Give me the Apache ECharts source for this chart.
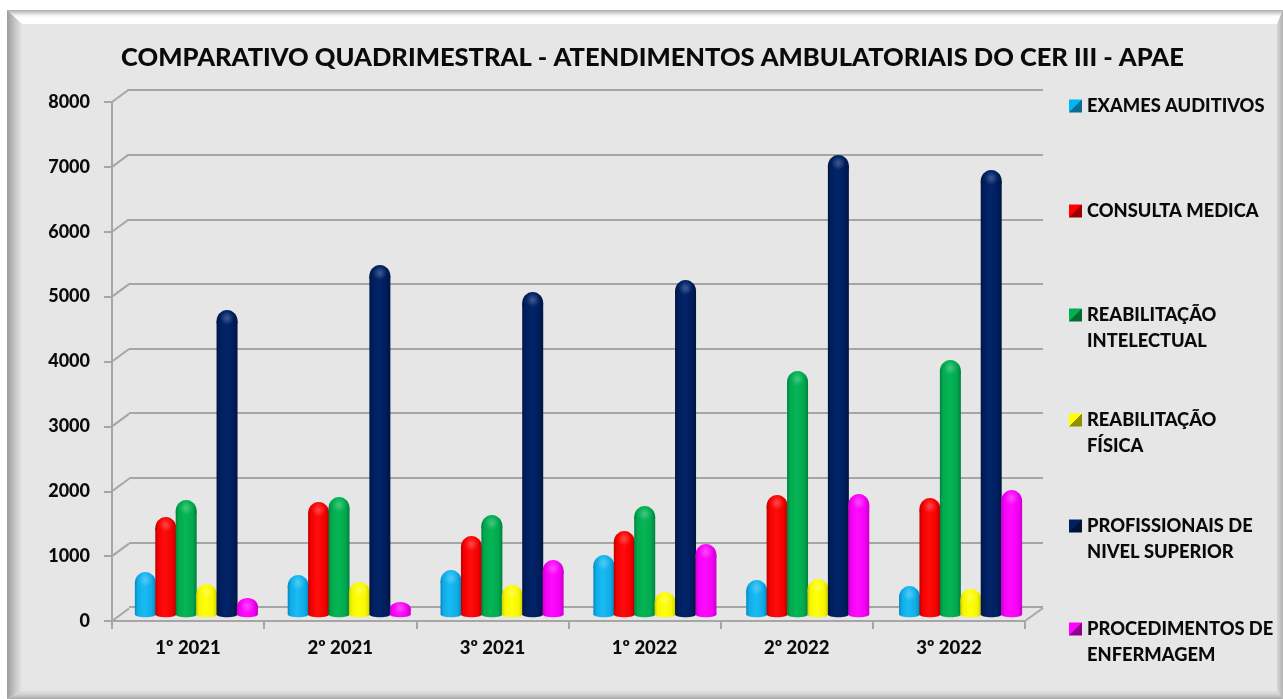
<!DOCTYPE html>
<html>
<head>
<meta charset="utf-8">
<style>html,body{margin:0;padding:0;background:#fff}#c{width:1283px;height:699px}</style>
<script src="https://cdn.jsdelivr.net/npm/echarts@6/dist/echarts.min.js"></script>
</head>
<body>
<div id="c"></div>
<script>
const titleText = 'COMPARATIVO QUADRIMESTRAL - ATENDIMENTOS AMBULATORIAIS DO CER III - APAE';
const categories = ['1º 2021','2º 2021','3º 2021','1º 2022','2º 2022','3º 2022'];
const examesAuditivos = [680,633,710,942,556,463];
const consultaMedica = [1530,1760,1235,1313,1869,1822];
const reabIntelectual = [1790,1838,1560,1699,3784,3954];
const reabFisica = [494,525,479,371,571,417];
const profissionais = [4725,5420,5004,5189,7120,6888];
const procedimentos = [278,216,865,1112,1884,1946];
const tickValues = [0,1000,2000,3000,4000,5000,6000,7000,8000];

const names = ['EXAMES AUDITIVOS','CONSULTA MEDICA','REABILITAÇÃO INTELECTUAL','REABILITAÇÃO FÍSICA','PROFISSIONAIS DE NIVEL SUPERIOR','PROCEDIMENTOS DE ENFERMAGEM'];
const legendLines = ['EXAMES AUDITIVOS','CONSULTA MEDICA',' \nREABILITAÇÃO\nINTELECTUAL',' \nREABILITAÇÃO\nFÍSICA',' \nPROFISSIONAIS DE\nNIVEL SUPERIOR',' \nPROCEDIMENTOS DE\nENFERMAGEM'];
const seriesData = [examesAuditivos,consultaMedica,reabIntelectual,reabFisica,profissionais,procedimentos];
const palette = [
  ['#0088C4','#19BBF5','#10ACE6','#00B5F2','#0A6E92'],
  ['#B80000','#FF0C0C','#F40000','#FF0000','#9A0000'],
  ['#008040','#05B556','#00AA4D','#00B050','#006C30'],
  ['#CCCC00','#FFFF0A','#F6F600','#FFFF00','#8E8E00'],
  ['#001440','#02246A','#001E5C','#002060','#001238'],
  ['#C800C8','#FF0CFF','#F400F4','#FF00FF','#900090']
];
const legendCentres = [106,211,315,420,526,629];
const FONT = 'Lato';
const INK = '#0A0A0A';

function gradH(c){
  return new echarts.graphic.LinearGradient(0,0,1,0,[
    {offset:0,color:c[0]},{offset:.14,color:c[2]},{offset:.45,color:c[1]},{offset:.8,color:c[2]},{offset:1,color:c[0]}
  ]);
}
function cylinder(i){
  return function(params, api){
    const cat = api.value(0), val = api.value(1);
    const top = api.coord([cat,val]), base = api.coord([cat,0]);
    const band = api.size([1,0])[0];
    const step = band*0.1336, w = 21;
    const cx = top[0] + (i-2.5)*step;
    const rx = w/2, h = base[1]-top[1];
    const ry = Math.min(11,h*0.48);
    const fill = gradH(palette[i]);
    return {type:'group',children:[
      {type:'ellipse',shape:{cx:cx,cy:base[1]-1.5,rx:rx,ry:2.8},style:{fill:fill}},
      {type:'rect',shape:{x:cx-rx,y:top[1]+ry,width:w,height:h-ry-1.5},style:{fill:fill}},
      {type:'ellipse',shape:{cx:cx,cy:top[1]+ry,rx:rx,ry:ry},style:{fill:fill}},
      {type:'circle',shape:{cx:cx,cy:top[1]+Math.min(8,h*.45),r:7},style:{fill:new echarts.graphic.RadialGradient(.5,.5,.5,[
        {offset:0,color:'rgba(255,255,255,0.25)'},{offset:1,color:'rgba(255,255,255,0)'}])}}
    ]};
  };
}
const series = names.map((n,i)=>({
  name:n,type:'custom',xAxisIndex:2,yAxisIndex:2,clip:false,z:5+i,
  itemStyle:{color:palette[i][3]},
  encode:{x:0,y:1},
  data:categories.map((c,k)=>[k,seriesData[i][k]]),
  renderItem:cylinder(i)
}));
series.push({
  type:'custom',xAxisIndex:1,yAxisIndex:1,z:2,silent:true,clip:false,
  data:tickValues.map(v=>[0,v]),encode:{y:1},
  renderItem:function(params,api){
    const y = api.coord([0,api.value(1)])[1], x = params.coordSys.x;
    return {type:'line',shape:{x1:x,y1:y,x2:x+17,y2:y-12.5},style:{stroke:'#A6A6A6',lineWidth:2}};
  }
});
series.push({
  type:'custom',xAxisIndex:1,yAxisIndex:1,z:2,silent:true,clip:false,
  data:[[0,0]],encode:{y:1},
  renderItem:function(params,api){
    const y = api.coord([0,0])[1], c = params.coordSys;
    return {type:'line',shape:{x1:c.x+c.width,y1:y,x2:c.x+c.width+18,y2:y-13},style:{stroke:'#A6A6A6',lineWidth:2}};
  }
});

const legends = names.map((n,i)=>{
  const two = legendLines[i].indexOf('\n')>=0;
  return {
    left:1069,top:legendCentres[i]-(two?39:13),orient:'vertical',padding:0,
    itemWidth:13,itemHeight:13,itemGap:0,selectedMode:false,icon:'rect',
    formatter:()=>legendLines[i],
    textStyle:{fontFamily:FONT,fontWeight:'900',fontSize:18.3,color:INK,lineHeight:26},
    data:[{name:n,icon:'rect',itemStyle:{color:new echarts.graphic.LinearGradient(0,0,1,1,[
      {offset:0,color:palette[i][3]},{offset:.5,color:palette[i][3]},{offset:.5,color:palette[i][4]},{offset:1,color:palette[i][4]}]),borderWidth:0}}]
  };
});

const W=1283,H=699;
const bevel = [
  {pts:[[7,10],[W,10],[W-6,24],[22,24]],fill:new echarts.graphic.LinearGradient(0,0,0,1,[{offset:0,color:'#ADADAD'},{offset:.35,color:'#EDEDED'},{offset:.5,color:'#FFFFFF'},{offset:1,color:'#FFFFFF'}])},
  {pts:[[7,10],[22,24],[22,690],[7,H]],fill:new echarts.graphic.LinearGradient(0,0,1,0,[{offset:0,color:'#9C9C9C'},{offset:.5,color:'#C4C4C4'},{offset:1,color:'#E6E6E6'}])},
  {pts:[[W,10],[W,H],[W-6,690],[W-6,24]],fill:new echarts.graphic.LinearGradient(0,0,1,0,[{offset:0,color:'#D8D8D8'},{offset:1,color:'#B0B0B0'}])},
  {pts:[[7,H],[W,H],[W-6,690],[22,690]],fill:new echarts.graphic.LinearGradient(0,0,0,1,[{offset:0,color:'#E6E6E6'},{offset:.5,color:'#D0D0D0'},{offset:1,color:'#A8A8A8'}])}
];
const graphics = [
  {type:'rect',z:-10,shape:{x:7,y:10,width:W-7,height:H-10},style:{fill:'#E6E6E6'}}
].concat(bevel.map(b=>({type:'polygon',z:-8,shape:{points:b.pts},style:{fill:b.fill}})));

const chart = echarts.init(document.getElementById('c'),null,{renderer:'canvas',width:W,height:H});
chart.setOption({
  animation:false,
  backgroundColor:'#FFFFFF',
  title:{text:titleText,left:647.5,top:40,textAlign:'center',textStyle:{fontFamily:FONT,fontWeight:'900',fontSize:25.5,color:INK}},
  legend:legends,
  graphic:{elements:graphics},
  grid:[
    {left:129,top:90,width:914,height:517},
    {left:112,top:102,width:913,height:519},
    {left:120,top:98,width:917,height:518}
  ],
  xAxis:[
    {gridIndex:0,type:'category',data:categories,show:false},
    {gridIndex:1,type:'category',data:categories,
      axisLine:{show:true,lineStyle:{color:'#A6A6A6',width:2}},
      axisTick:{show:true,alignWithLabel:false,length:8,lineStyle:{color:'#A6A6A6',width:2}},
      axisLabel:{margin:18,interval:0,fontFamily:FONT,fontWeight:'900',fontSize:18.5,color:INK}},
    {gridIndex:2,type:'category',data:categories,show:false}
  ],
  yAxis:[
    {gridIndex:0,type:'value',min:0,max:8000,interval:1000,
      axisLine:{show:false},axisTick:{show:false},axisLabel:{show:false},
      splitLine:{show:true,lineStyle:{color:'#A6A6A6',width:2}}},
    {gridIndex:1,type:'value',min:0,max:8000,interval:1000,splitLine:{show:false},
      axisLine:{show:true,lineStyle:{color:'#A6A6A6',width:2}},
      axisTick:{show:true,length:8,lineStyle:{color:'#A6A6A6',width:2}},
      axisLabel:{margin:22,formatter:v=>String(v),fontFamily:FONT,fontWeight:'900',fontSize:18,color:INK}},
    {gridIndex:2,type:'value',min:0,max:8000,show:false,splitLine:{show:false}}
  ],
  series:series
});
</script>
</body>
</html>
